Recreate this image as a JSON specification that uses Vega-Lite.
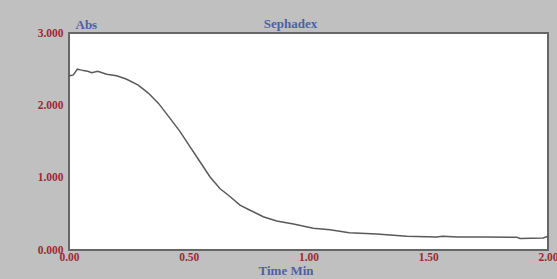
{
  "$schema": "https://vega.github.io/schema/vega-lite/v6.json",
  "autosize": "none",
  "width": 479,
  "height": 217,
  "padding": {"left": 69, "top": 33, "right": 9, "bottom": 29},
  "background": "#c0c0c0",
  "title": {
    "text": "Sephadex",
    "anchor": "middle",
    "dx": -18,
    "dy": 17,
    "offset": 4,
    "font": "Liberation Serif",
    "fontSize": 13,
    "fontWeight": "bold",
    "color": "#4f5fa6"
  },
  "config": {
    "view": {"fill": "white", "stroke": "#666666", "strokeWidth": 2},
    "axis": {
      "labelFont": "Liberation Serif",
      "labelFontSize": 11.5,
      "labelFontWeight": "bold",
      "labelColor": "#9c2b2e",
      "titleFont": "Liberation Serif",
      "titleFontSize": 13,
      "titleFontWeight": "bold",
      "titleColor": "#4f5fa6",
      "grid": false,
      "ticks": false,
      "domain": false
    }
  },
  "data": {
    "values": [
      {"t": 0.0, "abs": 2.41},
      {"t": 0.004, "abs": 2.41},
      {"t": 0.018, "abs": 2.42},
      {"t": 0.035, "abs": 2.50},
      {"t": 0.048, "abs": 2.49},
      {"t": 0.06, "abs": 2.48},
      {"t": 0.078, "abs": 2.47},
      {"t": 0.095, "abs": 2.45},
      {"t": 0.12, "abs": 2.47},
      {"t": 0.157, "abs": 2.43},
      {"t": 0.199, "abs": 2.41},
      {"t": 0.241, "abs": 2.36},
      {"t": 0.289, "abs": 2.28},
      {"t": 0.331, "abs": 2.17},
      {"t": 0.373, "abs": 2.03},
      {"t": 0.422, "abs": 1.82},
      {"t": 0.463, "abs": 1.64},
      {"t": 0.505, "abs": 1.43},
      {"t": 0.547, "abs": 1.22},
      {"t": 0.589, "abs": 1.01},
      {"t": 0.63, "abs": 0.85},
      {"t": 0.672, "abs": 0.74},
      {"t": 0.714, "abs": 0.62},
      {"t": 0.756, "abs": 0.55},
      {"t": 0.811, "abs": 0.46},
      {"t": 0.867, "abs": 0.40},
      {"t": 0.937, "abs": 0.36},
      {"t": 1.02, "abs": 0.30},
      {"t": 1.09, "abs": 0.28},
      {"t": 1.17, "abs": 0.24},
      {"t": 1.285, "abs": 0.22},
      {"t": 1.41, "abs": 0.19},
      {"t": 1.535, "abs": 0.18},
      {"t": 1.56, "abs": 0.19},
      {"t": 1.62, "abs": 0.18},
      {"t": 1.73, "abs": 0.18},
      {"t": 1.87, "abs": 0.175},
      {"t": 1.883, "abs": 0.16},
      {"t": 1.98, "abs": 0.165},
      {"t": 2.0, "abs": 0.19}
    ]
  },
  "mark": {"type": "line", "color": "#5a5a5a", "strokeWidth": 1.5},
  "encoding": {
    "x": {
      "field": "t",
      "type": "quantitative",
      "scale": {"domain": [0, 2], "nice": false},
      "axis": {
        "values": [0, 0.5, 1, 1.5, 2],
        "format": ".2f",
        "labelPadding": 1,
        "labelBaseline": "top",
        "labelOverlap": false,
        "labelBound": false,
        "labelFlush": false,
        "title": "Time Min",
        "titleX": 189,
        "titleY": 24,
        "titleAlign": "left",
        "titleBaseline": "alphabetic"
      }
    },
    "y": {
      "field": "abs",
      "type": "quantitative",
      "scale": {"domain": [0, 3], "nice": false},
      "axis": {
        "values": [0, 1, 2, 3],
        "format": ".3f",
        "labelPadding": 6,
        "labelBaseline": "middle",
        "title": "Abs",
        "titleAngle": 0,
        "titleX": 6,
        "titleY": -5,
        "titleAlign": "left",
        "titleBaseline": "alphabetic"
      }
    }
  }
}
